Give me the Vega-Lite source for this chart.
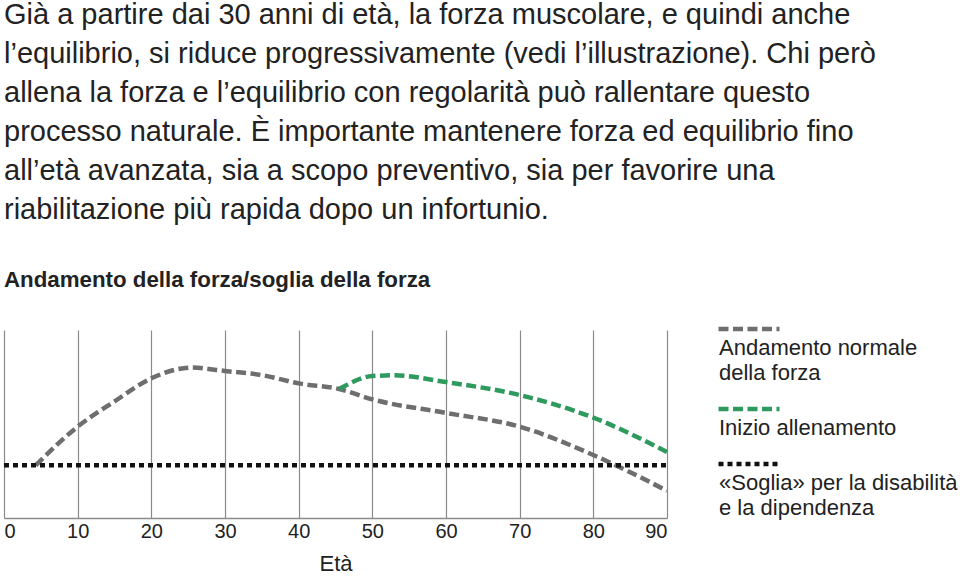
{
  "$schema": "https://vega.github.io/schema/vega-lite/v6.json",
  "width": 663,
  "height": 188,
  "padding": {"left": -5, "top": 0, "right": 0, "bottom": 0},
  "background": "white",
  "config": {"view": {"stroke": null}},
  "title": {
    "text": [
      "Già a partire dai 30 anni di età, la forza muscolare, e quindi anche",
      "l’equilibrio, si riduce progressivamente (vedi l’illustrazione). Chi però",
      "allena la forza e l’equilibrio con regolarità può rallentare questo",
      "processo naturale. È importante mantenere forza ed equilibrio fino",
      "all’età avanzata, sia a scopo preventivo, sia per favorire una",
      "riabilitazione più rapida dopo un infortunio."
    ],
    "subtitle": "Andamento della forza/soglia della forza",
    "anchor": "start",
    "frame": "group",
    "font": "Liberation Sans",
    "fontSize": 29,
    "fontWeight": "normal",
    "color": "#222222",
    "lineHeight": 39,
    "subtitleFont": "Liberation Sans",
    "subtitleFontSize": 22.3,
    "subtitleFontWeight": "bold",
    "subtitleColor": "#222222",
    "subtitlePadding": 44,
    "offset": 13
  },
  "data": {
    "values": [
      {"series": "Andamento normale|della forza", "age": 4.3, "value": 28},
      {"series": "Andamento normale|della forza", "age": 10, "value": 48.6},
      {"series": "Andamento normale|della forza", "age": 15, "value": 62},
      {"series": "Andamento normale|della forza", "age": 20, "value": 74.3},
      {"series": "Andamento normale|della forza", "age": 25.5, "value": 80},
      {"series": "Andamento normale|della forza", "age": 30, "value": 78.2},
      {"series": "Andamento normale|della forza", "age": 35, "value": 76},
      {"series": "Andamento normale|della forza", "age": 40, "value": 71.6},
      {"series": "Andamento normale|della forza", "age": 45.5, "value": 68.6},
      {"series": "Andamento normale|della forza", "age": 50, "value": 63.1},
      {"series": "Andamento normale|della forza", "age": 60, "value": 55.9},
      {"series": "Andamento normale|della forza", "age": 70, "value": 48.6},
      {"series": "Andamento normale|della forza", "age": 80, "value": 33.5},
      {"series": "Andamento normale|della forza", "age": 90, "value": 14.5},
      {"series": "Inizio allenamento", "age": 45.5, "value": 68.6},
      {"series": "Inizio allenamento", "age": 50, "value": 75.5},
      {"series": "Inizio allenamento", "age": 53, "value": 75.9},
      {"series": "Inizio allenamento", "age": 60, "value": 72.3},
      {"series": "Inizio allenamento", "age": 70, "value": 65.4},
      {"series": "Inizio allenamento", "age": 80, "value": 53.4},
      {"series": "Inizio allenamento", "age": 90, "value": 35.1},
      {"series": "«Soglia» per la disabilità|e la dipendenza", "age": 0, "value": 28},
      {"series": "«Soglia» per la disabilità|e la dipendenza", "age": 90, "value": 28}
    ]
  },
  "mark": {"type": "line", "interpolate": "monotone", "strokeCap": "butt"},
  "encoding": {
    "x": {
      "field": "age",
      "type": "quantitative",
      "scale": {"domain": [0, 90], "nice": false},
      "axis": {
        "values": [0, 10, 20, 30, 40, 50, 60, 70, 80, 90],
        "title": "Età",
        "grid": true,
        "gridColor": "#8a8a8a",
        "gridWidth": 1.2,
        "domainColor": "#8a8a8a",
        "domainWidth": 1.5,
        "ticks": false,
        "labelFont": "Liberation Sans",
        "labelFontSize": 20,
        "labelColor": "#222222",
        "labelPadding": 3,
        "titleFont": "Liberation Sans",
        "titleFontSize": 22,
        "titleFontWeight": "normal",
        "titleColor": "#222222",
        "titlePadding": 12,
        "encode": {"labels": {"update": {"dx": {"signal": "datum.value == 0 ? 6 : -2.5"}}}}
      }
    },
    "y": {
      "field": "value",
      "type": "quantitative",
      "scale": {"domain": [0, 100], "nice": false},
      "axis": null
    },
    "color": {
      "field": "series",
      "type": "nominal",
      "scale": {
        "domain": ["Andamento normale|della forza", "Inizio allenamento", "«Soglia» per la disabilità|e la dipendenza"],
        "range": ["#6e6e6e", "#2e9a5e", "#111111"]
      },
      "legend": {
        "orient": "none",
        "legendX": 712,
        "legendY": -26,
        "title": null,
        "padding": 0,
        "symbolType": "stroke",
        "symbolSize": 3721,
        "labelExpr": "split(datum.label, '|')",
        "labelBaseline": "top",
        "labelOffset": -63,
        "labelFont": "Liberation Sans",
        "labelFontSize": 22,
        "labelColor": "#222222",
        "labelLimit": 400,
        "rowPadding": 0,
        "encode": {
          "symbols": {"update": {"y": {"value": 25}}},
          "labels": {"update": {"y": {"value": 34}, "lineHeight": {"value": 25}}}
        }
      }
    },
    "strokeDash": {
      "field": "series",
      "type": "nominal",
      "scale": {
        "domain": ["Andamento normale|della forza", "Inizio allenamento", "«Soglia» per la disabilità|e la dipendenza"],
        "range": [[10, 4.5], [10, 4.5], [5, 4]]
      }
    },
    "strokeWidth": {
      "field": "series",
      "type": "nominal",
      "scale": {
        "domain": ["Andamento normale|della forza", "Inizio allenamento", "«Soglia» per la disabilità|e la dipendenza"],
        "range": [4.5, 4.5, 1.8]
      }
    }
  }
}
